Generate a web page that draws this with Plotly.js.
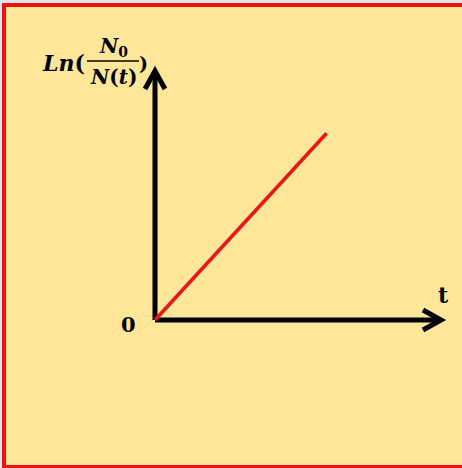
<!DOCTYPE html>
<html>
<head>
<meta charset="utf-8">
<script src="https://cdn.plot.ly/plotly-3.0.1.min.js"></script>
<style>
  html, body { margin: 0; padding: 0; background: #dfe6ee; overflow: hidden; }
  #wrap { position: relative; width: 462px; height: 468px; overflow: hidden; }
  #chart { position: absolute; left: 2px; top: 3px; width: 460px; height: 465px; }
</style>
</head>
<body>
<div id="wrap"><div id="chart"></div></div>
<script>
// Data (conceptual linear relation ln(N0/N(t)) = λ t)
const t = [0, 6];
const lnRatio = [0, 7.5];
// Axis extents (arrow tips) in data units
const tMax = 10;
const lnMax = 10;
// Labels
const originLabel = '0';
const xLabel = 't';

// pixel mapping inside the plot div (margins are zero)
const W = 460, H = 465;
const ox = 153, oy = 317;       // origin pixel in div
const sx = 28.6, sy = 24.9;     // pixels per unit
const xRange = [-ox / sx, (W - ox) / sx];
const yRange = [-(H - oy) / sy, oy / sy];
const X = px => (px - 2 - ox) / sx;     // page px -> data
const Y = py => (oy - (py - 3)) / sy;

const serif = 'DejaVu Serif, Liberation Serif, serif';
const trace = {
  x: t, y: lnRatio, type: 'scatter', mode: 'lines',
  line: { color: '#e81818', width: 3.6 }, hoverinfo: 'skip', showlegend: false
};

const axisLine = { color: '#000', width: 5 };
const frameRed = '#f01010';
const shapes = [
  { type: 'line', xref: 'x', yref: 'y', x0: 0, y0: 0, x1: tMax, y1: 0, line: axisLine, layer: 'below' },
  { type: 'line', xref: 'x', yref: 'y', x0: 0, y0: 0, x1: 0, y1: lnMax, line: axisLine, layer: 'below' },
  { type: 'path', xref: 'x', yref: 'y', xsizemode: 'pixel', ysizemode: 'pixel', xanchor: tMax, yanchor: 0,
    path: 'M-18,-10 L0,0 L-18,10', line: axisLine, layer: 'below' },
  { type: 'path', xref: 'x', yref: 'y', xsizemode: 'pixel', ysizemode: 'pixel', xanchor: 0, yanchor: lnMax,
    path: 'M-10,-18 L0,0 L10,-18', line: axisLine, layer: 'below' },
  // fraction bar of the y label
  { type: 'line', xref: 'x', yref: 'y', x0: X(87), x1: X(139), y0: Y(61), y1: Y(61),
    line: { color: '#000', width: 1.6 } },
  // picture frame (left, top, bottom)
  { type: 'rect', xref: 'paper', yref: 'paper', x0: 0, x1: 4 / W, y0: 0, y1: 1, fillcolor: frameRed, line: { width: 0 } },
  { type: 'rect', xref: 'paper', yref: 'paper', x0: 0, x1: 1, y0: 1 - 4 / H, y1: 1, fillcolor: frameRed, line: { width: 0 } },
  { type: 'rect', xref: 'paper', yref: 'paper', x0: 0, x1: 1, y0: 0, y1: 3 / H, fillcolor: frameRed, line: { width: 0 } }
];

const f = s => ({ family: serif, size: s, color: '#000' });
const annotations = [
  { x: X(128), y: Y(324), text: '<b>' + originLabel + '</b>', showarrow: false, font: f(21), xanchor: 'center', yanchor: 'middle' },
  { x: X(443), y: Y(295), text: '<b>' + xLabel + '</b>', showarrow: false, font: f(22), xanchor: 'center', yanchor: 'middle' },
  { x: X(87), y: Y(63), text: '<b><i>Ln</i>(</b>', showarrow: false, font: f(22), xanchor: 'right', yanchor: 'middle' },
  { x: X(113), y: Y(47), text: '<b><i>N</i><sub>0</sub></b>', showarrow: false, font: f(20), xanchor: 'center', yanchor: 'middle' },
  { x: X(113), y: Y(77), text: '<b><i>N</i>(<i>t</i>)</b>', showarrow: false, font: f(20), xanchor: 'center', yanchor: 'middle' },
  { x: X(143), y: Y(63), text: '<b>)</b>', showarrow: false, font: f(19), xanchor: 'center', yanchor: 'middle' }
];

const layout = {
  width: W, height: H,
  margin: { l: 0, r: 0, t: 0, b: 0, pad: 0 },
  paper_bgcolor: '#ffe699', plot_bgcolor: '#ffe699',
  xaxis: { range: xRange, visible: false, fixedrange: true },
  yaxis: { range: yRange, visible: false, fixedrange: true },
  shapes: shapes, annotations: annotations, showlegend: false
};
Plotly.newPlot('chart', [trace], layout, { displayModeBar: false, staticPlot: true });
</script>
</body>
</html>
